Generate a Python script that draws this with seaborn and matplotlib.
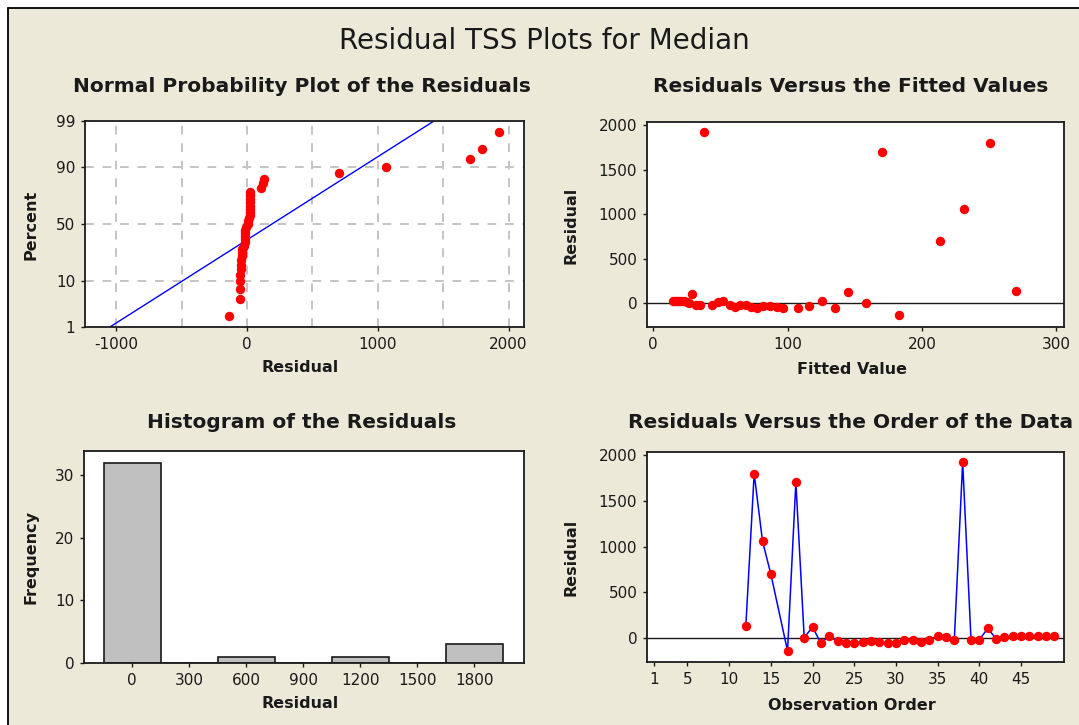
import numpy as np
import pandas as pd
import seaborn as sns
import matplotlib
matplotlib.use("Agg")
import matplotlib.pyplot as plt
from matplotlib.patches import Rectangle
from matplotlib.lines import Line2D
from statistics import NormalDist

# ---- data -------------------------------------------------------------
observation = [12, 13, 14, 15, 17, 18, 19, 20, 21, 22, 23, 24, 25, 26, 27,
               28, 29, 30, 31, 32, 33, 34, 35, 36, 37, 38, 39, 40, 41, 42,
               43, 44, 45, 46, 47, 48, 49]
residual = [130, 1800, 1060, 700, -140, 1705, 5, 120, -55, 20, -36, -55,
            -52, -44, -36, -38, -55, -50, -18, -18, -44, -20, 25, 10, -18,
            1925, -18, -18, 105, -5, 15, 22, 22, 24, 22, 22, 20]
fitted = [270, 250.5, 231, 213.6, 183, 170.5, 158, 145, 135, 126, 116,
          107.7, 97, 92, 87, 82, 77, 73, 69, 65, 61, 57, 52, 48, 44, 38,
          35, 32, 29, 27, 25, 23, 21, 19.5, 18, 16.5, 15]

prob_ticks = [1, 10, 50, 90, 99]
resid_ticks = [-1000, 0, 1000, 2000]
resid_grid = [-1000, -500, 0, 500, 1000, 1500, 2000]
fitted_ticks = [0, 100, 200, 300]
resid_y_ticks = [0, 500, 1000, 1500, 2000]
hist_x_ticks = [0, 300, 600, 900, 1200, 1500, 1800]
hist_y_ticks = [0, 10, 20, 30]
hist_edges = [-150, 150, 450, 750, 1050, 1350, 1650, 1950]
order_ticks = [1, 5, 10, 15, 20, 25, 30, 35, 40, 45]

df = pd.DataFrame({"obs": observation, "resid": residual, "fit": fitted})

# ---- style ------------------------------------------------------------
sns.set_theme(style="white")
plt.rcParams["font.family"] = ["DejaVu Sans"]

W, H = 1079, 725
BG = "#ECE9D8"
INK = "#1a1a1a"
RED = "#FF0000"
BLUE = "#0000FF"
GRID = "#C4C4C4"

fig = plt.figure(figsize=(W / 100, H / 100), dpi=100, facecolor="white")

# window panel with dark top/left edge
fig.add_artist(Rectangle((8 / W, -0.01), 1.02 - 8 / W, 1.01 - 8 / H,
                         transform=fig.transFigure, facecolor=BG,
                         edgecolor="none", lw=0, zorder=-10))
fig.add_artist(Line2D([7.5 / W, 1.01], [1 - 7.5 / H, 1 - 7.5 / H],
                      transform=fig.transFigure, color="black", lw=1.3,
                      zorder=-9))
fig.add_artist(Line2D([7.5 / W, 7.5 / W], [-0.01, 1 - 7.5 / H],
                      transform=fig.transFigure, color="black", lw=1.3,
                      zorder=-9))


def panel(left, top, right, bottom):
    ax = fig.add_axes([left / W, 1 - bottom / H, (right - left) / W,
                       (bottom - top) / H])
    ax.set_facecolor("white")
    for s in ax.spines.values():
        s.set_color(INK)
        s.set_linewidth(1.3)
    ax.tick_params(direction="out", length=3, width=1, colors=INK,
                   labelsize=11, pad=4, bottom=True, left=True)
    return ax


def ftext(x, y, s, **kw):
    fig.text(x / W, 1 - y / H, s, ha="center", va="center", color=INK, **kw)


MS = 46

# ---- normal probability plot -------------------------------------------
nd = NormalDist()
n = len(residual)
sorted_res = np.sort(np.array(residual, dtype=float))
pct = (np.arange(1, n + 1) - 0.3) / (n + 0.4)
zscore = np.array([nd.inv_cdf(p) for p in pct])
mu = float(np.mean(residual))
sd = float(np.std(residual, ddof=1))
z_lo, z_hi = nd.inv_cdf(0.01), nd.inv_cdf(0.99)
line_df = pd.DataFrame({"x": [mu + sd * z_lo, mu + sd * z_hi],
                        "z": [z_lo, z_hi]})

ax1 = panel(85, 121, 524, 327)
ax1.set_xlim(-1240, 2118)
ax1.set_ylim(z_lo, z_hi)
for g in resid_grid:
    ax1.axvline(g, color=GRID, lw=1.4, dashes=(4.5, 4.5), zorder=0)
for p in prob_ticks[1:-1]:
    ax1.axhline(nd.inv_cdf(p / 100), color=GRID, lw=1.4, dashes=(4.5, 4.5),
                zorder=0)
sns.lineplot(data=line_df, x="x", y="z", color=BLUE, lw=1.0, ax=ax1,
             zorder=2)
sns.scatterplot(x=sorted_res, y=zscore, color=RED, s=MS, linewidth=0,
                ax=ax1, zorder=3)
ax1.set_xticks(resid_ticks)
ax1.set_xticklabels([str(t) for t in resid_ticks])
ax1.set_yticks([nd.inv_cdf(p / 100) for p in prob_ticks])
ax1.set_yticklabels([str(p) for p in prob_ticks])
ax1.set_xlabel("")
ax1.set_ylabel("")

# ---- residuals vs fitted -----------------------------------------------
ax2 = panel(647, 122, 1064, 327)
ax2.set_xlim(-4.5, 305.6)
ax2.set_ylim(-270, 2037)
ax2.axhline(0, color=INK, lw=1.0, zorder=1)
sns.scatterplot(data=df, x="fit", y="resid", color=RED, s=MS, linewidth=0,
                ax=ax2, zorder=3)
ax2.set_xticks(fitted_ticks)
ax2.set_yticks(resid_y_ticks)
ax2.set_xlabel("")
ax2.set_ylabel("")

# ---- histogram ----------------------------------------------------------
ax3 = panel(84, 451, 524, 663)
sns.histplot(data=df, x="resid", bins=hist_edges, color="#C0C0C0",
             edgecolor=INK, linewidth=1.2, alpha=1, ax=ax3)
ax3.set_xlim(-254, 2061)
ax3.set_ylim(0, 33.9)
ax3.set_xticks(hist_x_ticks)
ax3.set_yticks(hist_y_ticks)
ax3.set_xlabel("")
ax3.set_ylabel("")

# ---- residuals vs order -------------------------------------------------
ax4 = panel(647, 452, 1064, 662)
ax4.set_xlim(0.15, 50.15)
ax4.set_ylim(-262, 2036)
ax4.axhline(0, color=INK, lw=1.0, zorder=1)
sns.lineplot(data=df, x="obs", y="resid", color=BLUE, lw=1.1,
             estimator=None, ax=ax4, zorder=2)
sns.scatterplot(data=df, x="obs", y="resid", color=RED, s=MS, linewidth=0,
                ax=ax4, zorder=3)
ax4.set_xticks(order_ticks)
ax4.set_yticks(resid_y_ticks)
ax4.set_xlabel("")
ax4.set_ylabel("")

for ax in (ax1, ax2, ax3, ax4):
    for lab in ax.get_xticklabels() + ax.get_yticklabels():
        lab.set_color(INK)

# ---- titles and axis labels --------------------------------------------
ftext(544, 41, "Residual TSS Plots for Median", fontsize=20)
ftext(302, 87, "Normal Probability Plot of the Residuals", fontsize=14.5,
      fontweight="bold")
ftext(851, 87, "Residuals Versus the Fitted Values", fontsize=14.5,
      fontweight="bold")
ftext(302, 422, "Histogram of the Residuals", fontsize=14.5,
      fontweight="bold")
ftext(851, 422, "Residuals Versus the Order of the Data", fontsize=14.5,
      fontweight="bold")

ftext(300, 368, "Residual", fontsize=11.5, fontweight="bold")
ftext(852, 369, "Fitted Value", fontsize=11.5, fontweight="bold")
ftext(300, 704, "Residual", fontsize=11.5, fontweight="bold")
ftext(852, 705, "Observation Order", fontsize=11.5, fontweight="bold")

ftext(31, 225, "Percent", fontsize=11.5, fontweight="bold", rotation=90)
ftext(571, 225, "Residual", fontsize=11.5, fontweight="bold", rotation=90)
ftext(31, 557, "Frequency", fontsize=11.5, fontweight="bold", rotation=90)
ftext(571, 557, "Residual", fontsize=11.5, fontweight="bold", rotation=90)

fig.savefig("out.png", dpi=100, facecolor=fig.get_facecolor())
